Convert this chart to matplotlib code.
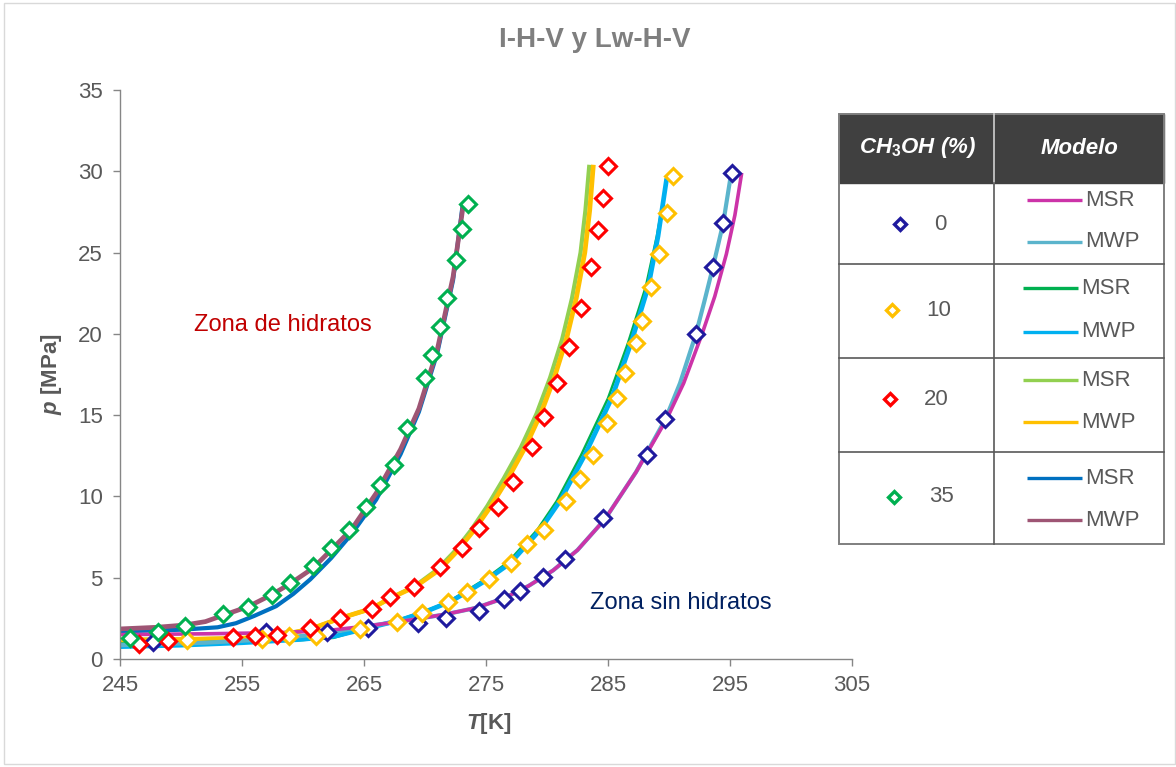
import matplotlib
matplotlib.use("Agg")
import matplotlib.pyplot as plt
from matplotlib.patches import Rectangle

plt.rcParams['font.family'] = ['Liberation Sans', 'DejaVu Sans']
plt.rcParams['mathtext.fontset'] = 'custom'
plt.rcParams['mathtext.it'] = 'Liberation Sans:italic:bold'
plt.rcParams['mathtext.rm'] = 'Liberation Sans:bold'
plt.rcParams['mathtext.bf'] = 'Liberation Sans:bold'

# ---------------- data ----------------
title = "I-H-V y Lw-H-V"
x_ticks = [245, 255, 265, 275, 285, 295, 305]
y_ticks = [0, 5, 10, 15, 20, 25, 30, 35]

# experimental points (T [K], p [MPa])
T_exp_0 = [247.68, 257.0, 261.94, 265.35, 269.45, 271.72, 274.45, 276.48, 277.79, 279.65,
           281.48, 284.61, 288.17, 289.67, 292.19, 293.58, 294.40, 295.14]
p_exp_0 = [1.06, 1.65, 1.68, 1.93, 2.23, 2.50, 2.95, 3.67, 4.20, 5.06,
           6.13, 8.65, 12.55, 14.74, 19.97, 24.09, 26.84, 29.88]

T_exp_10 = [250.47, 256.6, 258.85, 261.1, 264.67, 267.68, 269.73, 271.91, 273.42, 275.27,
            277.02, 278.39, 279.78, 281.56, 282.70, 283.75, 284.89, 285.71, 286.39, 287.30,
            287.79, 288.50, 289.18, 289.86, 290.35]
p_exp_10 = [1.17, 1.2, 1.42, 1.4, 1.85, 2.29, 2.81, 3.52, 4.10, 4.92,
            5.92, 7.05, 7.94, 9.72, 11.07, 12.55, 14.50, 16.04, 17.61, 19.46,
            20.81, 22.90, 24.91, 27.45, 29.71]

T_exp_20 = [246.58, 248.96, 254.24, 256.07, 257.84, 260.57, 263.03, 265.63, 267.13, 269.12,
            271.23, 273.01, 274.45, 276.01, 277.24, 278.75, 279.78, 280.80, 281.83, 282.76,
            283.58, 284.16, 284.61, 284.98]
p_exp_20 = [0.95, 1.08, 1.33, 1.41, 1.48, 1.89, 2.50, 3.06, 3.80, 4.41,
            5.68, 6.81, 8.08, 9.37, 10.91, 13.06, 14.90, 16.96, 19.21, 21.57,
            24.10, 26.39, 28.34, 30.33]

T_exp_35 = [245.82, 248.09, 250.33, 253.47, 255.47, 257.43, 258.93, 260.80, 262.30, 263.80,
            265.16, 266.31, 267.46, 268.55, 270.00, 270.60, 271.23, 271.78, 272.54, 273.01, 273.50]
p_exp_35 = [1.27, 1.64, 2.03, 2.75, 3.22, 3.94, 4.66, 5.72, 6.81, 7.94,
            9.33, 10.70, 11.91, 14.19, 17.26, 18.70, 20.40, 22.19, 24.54, 26.43, 27.99]

# model curves
T_msr_0 = [245, 252, 258, 262, 265.5, 268.8, 271.7, 274.2, 276.5, 278.5, 280.5, 282.5,
           284.75, 287.3, 289.8, 291.2, 292.7, 293.75, 294.7, 295.4, 295.96]
p_msr_0 = [1.5, 1.55, 1.62, 1.75, 2.05, 2.4, 2.75, 3.15, 3.75, 4.5, 5.45, 6.7,
           8.6, 11.5, 14.74, 16.96, 19.97, 22.3, 24.9, 27.3, 29.9]
T_mwp_0 = [245, 252, 258, 262, 265.5, 268.8, 271.7, 274.2, 276.5, 278.5, 280.5, 282.5,
           284.75, 287.3, 289.7, 290.9, 292.2, 292.9, 293.6, 294.45, 295.1]
p_mwp_0 = [0.85, 1.0, 1.25, 1.6, 2.05, 2.4, 2.75, 3.15, 3.75, 4.5, 5.45, 6.7,
           8.6, 11.5, 14.74, 16.96, 19.97, 22.0, 24.1, 26.84, 29.9]

T_msr_10 = [245, 250, 255, 260, 262.5, 264.67, 268, 270, 272.0, 273.3, 274.9, 276.8,
            279.2, 280.8, 282.8, 285.0, 286.65, 288.1, 289.0, 289.85]
p_msr_10 = [0.95, 1.0, 1.1, 1.17, 1.3, 1.78, 2.45, 2.95, 3.55, 4.15, 4.9, 5.95,
            7.94, 9.72, 12.55, 16.04, 19.46, 22.9, 26.0, 29.56]
T_mwp_10 = [245, 250, 255, 259.75, 262.6, 264.67, 268, 270, 272.05, 273.4, 275.05, 277.0,
            279.43, 281.07, 283.1, 285.3, 286.9, 288.3, 289.1, 289.81]
p_mwp_10 = [0.76, 0.85, 1.0, 1.2, 1.4, 1.78, 2.4, 2.9, 3.52, 4.1, 4.86, 5.9,
            7.94, 9.72, 12.55, 16.04, 19.46, 22.9, 26.0, 29.56]

T_msr_20 = [245, 250, 255, 258, 260.57, 263.03, 265.6, 267.13, 269.1, 271.0, 272.4, 273.75,
            275.1, 276.45, 277.85, 279.15, 280.25, 281.25, 282.05, 282.75, 283.15, 283.47]
p_msr_20 = [1.17, 1.2, 1.28, 1.45, 1.83, 2.5, 3.1, 3.73, 4.45, 5.5, 6.6, 7.9,
            9.4, 11.1, 13.0, 15.1, 17.3, 19.7, 22.2, 25.0, 27.6, 30.4]
T_mwp_20 = [245, 250, 255, 258, 260.57, 263.03, 265.6, 267.13, 269.2, 271.2, 272.6, 274.0,
            275.4, 276.8, 278.2, 279.5, 280.6, 281.6, 282.4, 283.1, 283.5, 283.8]
p_mwp_20 = [1.17, 1.2, 1.28, 1.45, 1.83, 2.5, 3.1, 3.73, 4.45, 5.5, 6.6, 7.9,
            9.4, 11.1, 13.0, 15.1, 17.3, 19.7, 22.2, 25.0, 27.6, 30.4]

T_msr_35 = [245, 250, 253, 254.5, 256, 257.8, 259.2, 260.6, 262.3, 264, 266, 268,
            269.5, 271, 272.3, 273.1]
p_msr_35 = [1.7, 1.8, 1.95, 2.2, 2.65, 3.25, 4.0, 4.9, 6.2, 7.7, 9.8, 12.6,
            15.2, 18.8, 23.3, 28.0]
T_mwp_35 = [245, 248, 250.3, 252, 253.5, 255.5, 257.4, 258.9, 260.8, 262.3, 264, 266,
            268, 269.5, 271, 272.3, 273.15]
p_mwp_35 = [1.85, 1.95, 2.09, 2.3, 2.7, 3.22, 3.94, 4.61, 5.58, 6.7, 8.0, 10.2,
            12.9, 15.4, 19.0, 23.5, 28.0]

groups = ["0", "10", "20", "35"]
models = ["MSR", "MWP"]

# ---------------- styles ----------------
mk_colors = {"0": "#1F1A9E", "10": "#FFC000", "20": "#FF0000", "35": "#00B050"}
ln_colors = {("0", "MSR"): "#CC33A8", ("0", "MWP"): "#5BB4CC",
             ("10", "MSR"): "#00B050", ("10", "MWP"): "#00B0F0",
             ("20", "MSR"): "#92D050", ("20", "MWP"): "#FFC000",
             ("35", "MSR"): "#0070C0", ("35", "MWP"): "#9E5574"}
ln_widths = {("0", "MSR"): 2.6, ("0", "MWP"): 3.0,
             ("10", "MSR"): 1.8, ("10", "MWP"): 3.4,
             ("20", "MSR"): 3.0, ("20", "MWP"): 3.4,
             ("35", "MSR"): 3.0, ("35", "MWP"): 3.4}

curves = {("0", "MSR"): (T_msr_0, p_msr_0), ("0", "MWP"): (T_mwp_0, p_mwp_0),
          ("10", "MSR"): (T_msr_10, p_msr_10), ("10", "MWP"): (T_mwp_10, p_mwp_10),
          ("20", "MSR"): (T_msr_20, p_msr_20), ("20", "MWP"): (T_mwp_20, p_mwp_20),
          ("35", "MSR"): (T_msr_35, p_msr_35), ("35", "MWP"): (T_mwp_35, p_mwp_35)}
exps = {"0": (T_exp_0, p_exp_0), "10": (T_exp_10, p_exp_10),
        "20": (T_exp_20, p_exp_20), "35": (T_exp_35, p_exp_35)}

W, H = 1176, 767
fig = plt.figure(figsize=(W / 100, H / 100), dpi=100)
fig.patch.set_facecolor("white")

ax = fig.add_axes([120 / W, 1 - 659 / H, 732 / W, 569 / H])
ax.set_xlim(245, 305)
ax.set_ylim(0, 35)
ax.set_xticks(x_ticks)
ax.set_yticks(y_ticks)
for s in ["top", "right"]:
    ax.spines[s].set_visible(False)
for s in ["left", "bottom"]:
    ax.spines[s].set_color("#868686")
    ax.spines[s].set_linewidth(1.0)
ax.tick_params(axis="both", direction="out", length=5, width=1, color="#868686",
               labelsize=16, labelcolor="#595959")
ax.tick_params(axis="y", pad=7.5)
ax.tick_params(axis="x", pad=6.5)

draw_order = [("35", "MSR"), ("35", "MWP"), ("20", "MSR"), ("20", "MWP"),
              ("10", "MSR"), ("10", "MWP"), ("0", "MWP"), ("0", "MSR")]
for key in draw_order:
    T, p = curves[key]
    ax.plot(T, p, color=ln_colors[key], lw=ln_widths[key], solid_joinstyle="round",
            solid_capstyle="butt", zorder=2)

for g in groups:
    T, p = exps[g]
    ax.plot(T, p, linestyle="none", marker="D", ms=8.0, mew=2.2,
            mec=mk_colors[g], mfc="white", zorder=3, clip_on=False)

ax.set_ylabel(r"$p$ [MPa]", fontsize=16, fontweight="bold", color="#595959")
ax.set_xlabel(r"$T$[K]", fontsize=16, fontweight="bold", color="#595959")
ax.yaxis.label.set_va("center")
ax.yaxis.label.set_ha("center")
ax.xaxis.label.set_va("center")
ax.yaxis.set_label_coords((52 - 120) / 732, 0.5)
ax.xaxis.set_label_coords((488.5 - 120) / 732, (659 - 723) / 569)

fig.suptitle(title, x=595 / W, y=1 - 40 / H, va="center", ha="center",
             fontsize=20, fontweight="bold", color="#7F7F7F")

ax.text(251.05, 20.55, "Zona de hidratos", fontsize=17, color="#C00000",
        ha="left", va="center")
ax.text(283.5, 3.44, "Zona sin hidratos", fontsize=17, color="#002060",
        ha="left", va="center")

# ---------------- legend table (pixel layout) ----------------
lg = fig.add_axes([0, 0, 1, 1], zorder=5)
lg.set_xlim(0, W)
lg.set_ylim(H, 0)
lg.axis("off")
lg.patch.set_alpha(0)

# outer chart border
lg.add_patch(Rectangle((3.5, 2.5), W - 5, H - 6, fill=False, ec="#D9D9D9", lw=1.0))

tl, tr, tt, tb = 838.5, 1163.5, 113.5, 544
colx = 993.5
hb = 182.5
row_lines = [263.5, 357.5, 451.5]
lg.add_patch(Rectangle((tl, tt), tr - tl, hb - tt, fc="#404040", ec="#404040", lw=1))
lg.add_patch(Rectangle((tl, tt), tr - tl, tb - tt, fill=False, ec="#7F7F7F", lw=1.4))
lg.plot([colx, colx], [tt, hb], color="#D0D0D0", lw=1.2)
lg.plot([colx, colx], [hb, tb], color="#595959", lw=1.2)
for yy in row_lines:
    lg.plot([tl, tr], [yy, yy], color="#595959", lw=1.2)

lg.text((tl + colx) / 2 + 2, (tt + hb) / 2, r"CH$_3$OH (%)", color="white",
        fontsize=16, fontweight="bold", fontstyle="italic", ha="center", va="center")
lg.text((colx + tr) / 2 + 1, (tt + hb) / 2, "Modelo", color="white",
        fontsize=16, fontweight="bold", fontstyle="italic", ha="center", va="center")

row_marker_x = [900, 891.7, 890, 894.3]
row_text_x = [940, 938.3, 936.7, 941]
row_center_y = [224.3, 310, 399.3, 496.7]
line_x0 = [1026.7, 1023, 1023, 1026.7]
line_x1 = [1081.7, 1077.7, 1077.7, 1081.7]
line_y = [(200, 241.7), (288.3, 331.7), (380, 422.3), (478.3, 520)]

for i, g in enumerate(groups):
    lg.plot([row_marker_x[i]], [row_center_y[i]], linestyle="none", marker="D",
            ms=6.3, mew=2.4, mec=mk_colors[g], mfc="white")
    lg.text(row_text_x[i], row_center_y[i], g, fontsize=16, color="#595959",
            ha="center", va="center")
    for j, m in enumerate(models):
        yy = line_y[i][j]
        lg.plot([line_x0[i], line_x1[i]], [yy, yy], color=ln_colors[(g, m)], lw=2.4,
                solid_capstyle="butt")
        lg.text(line_x1[i] + 3, yy, m, fontsize=16, color="#595959",
                ha="left", va="center")

fig.savefig("out.png", dpi=100, facecolor="white")
